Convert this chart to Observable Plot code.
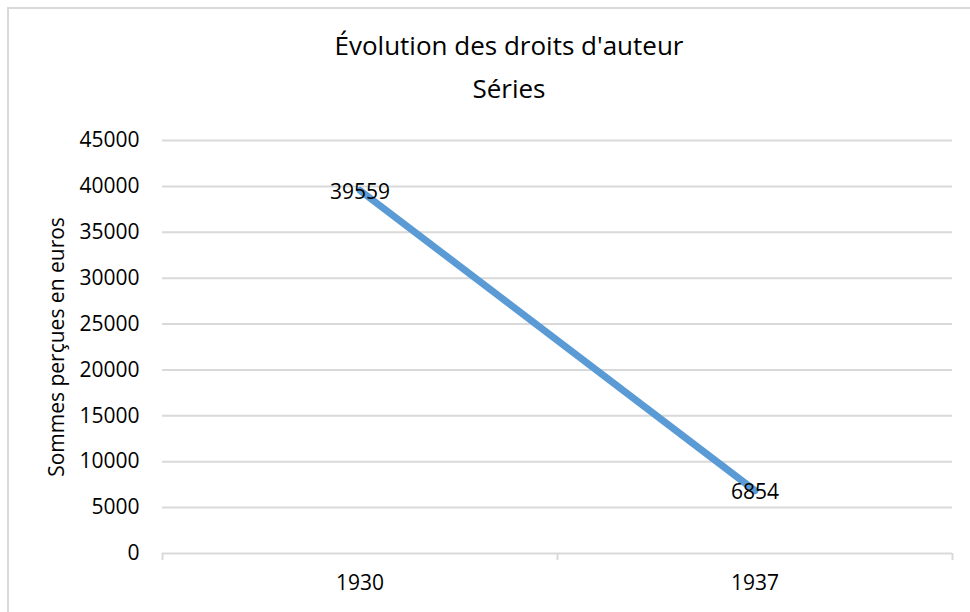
<!DOCTYPE html>
<html>
<head>
<meta charset="utf-8">
<script src="https://cdn.jsdelivr.net/npm/d3@7"></script>
<script src="https://cdn.jsdelivr.net/npm/@observablehq/plot@0.6"></script>
<style>
  html, body { margin: 0; padding: 0; background: #fff; }
  #wrap { position: relative; width: 970px; height: 612px; overflow: hidden; font-family: "Open Sans", sans-serif; }
  #frame { position: absolute; left: 7px; top: 7px; width: 980px; height: 620px; border: 2px solid #d9d9d9; box-sizing: border-box; }
  #title { position: absolute; left: 0; top: 24px; width: 1018px; text-align: center; font-size: 26px; line-height: 43px; color: #000; }
  #chart { position: absolute; left: 0; top: 0; }
</style>
</head>
<body>
<div id="wrap">
  <div id="frame"></div>
  <div id="chart"></div>
  <div id="title">Évolution des droits d'auteur<br>Séries</div>
</div>
<script>
const years = ["1930", "1937"];
const values = [39559, 6854];
const yTicks = [0, 5000, 10000, 15000, 20000, 25000, 30000, 35000, 40000, 45000];
const yLabel = "Sommes perçues en euros";

const data = years.map((year, i) => ({year, pos: i + 0.5, value: values[i]}));
const boundaries = d3.range(years.length + 1);

const chart = Plot.plot({
  width: 970,
  height: 612,
  marginLeft: 162,
  marginRight: 18,
  marginTop: 140,
  marginBottom: 59,
  style: {fontFamily: "Open Sans, sans-serif", fontSize: "21px", color: "#000", background: "transparent"},
  x: {domain: [0, years.length]},
  y: {domain: [0, 45000]},
  marks: [
    Plot.ruleY(yTicks.filter(d => d > 0), {stroke: "#d9d9d9", strokeWidth: 2}),
    Plot.ruleY([0], {stroke: "#d9d9d9", strokeWidth: 2}),
    Plot.axisX({ticks: boundaries, tickSize: 7, tickFormat: () => "", stroke: "#d9d9d9", strokeWidth: 2, label: null}),
    Plot.axisX({ticks: data.map(d => d.pos), tickSize: 0, tickPadding: 22, tickFormat: (d) => years[Math.floor(d)], fontSize: 21, label: null}),
    Plot.axisY({ticks: yTicks, tickSize: 0, tickPadding: 23, tickFormat: d => String(d), fontSize: 21, label: null}),
    Plot.text([yLabel], {frameAnchor: "left", textAnchor: "middle", dx: -105, rotate: -90, fontSize: 21, text: d => d, y: () => 22500}),
    Plot.line(data, {x: "pos", y: "value", stroke: "#5b9bd5", strokeWidth: 7, strokeLinecap: "round"}),
    Plot.text(data, {x: "pos", y: "value", text: d => String(d.value), fontSize: 21, dy: 2, fill: "#000"})
  ]
});
document.getElementById("chart").appendChild(chart);
</script>
</body>
</html>
